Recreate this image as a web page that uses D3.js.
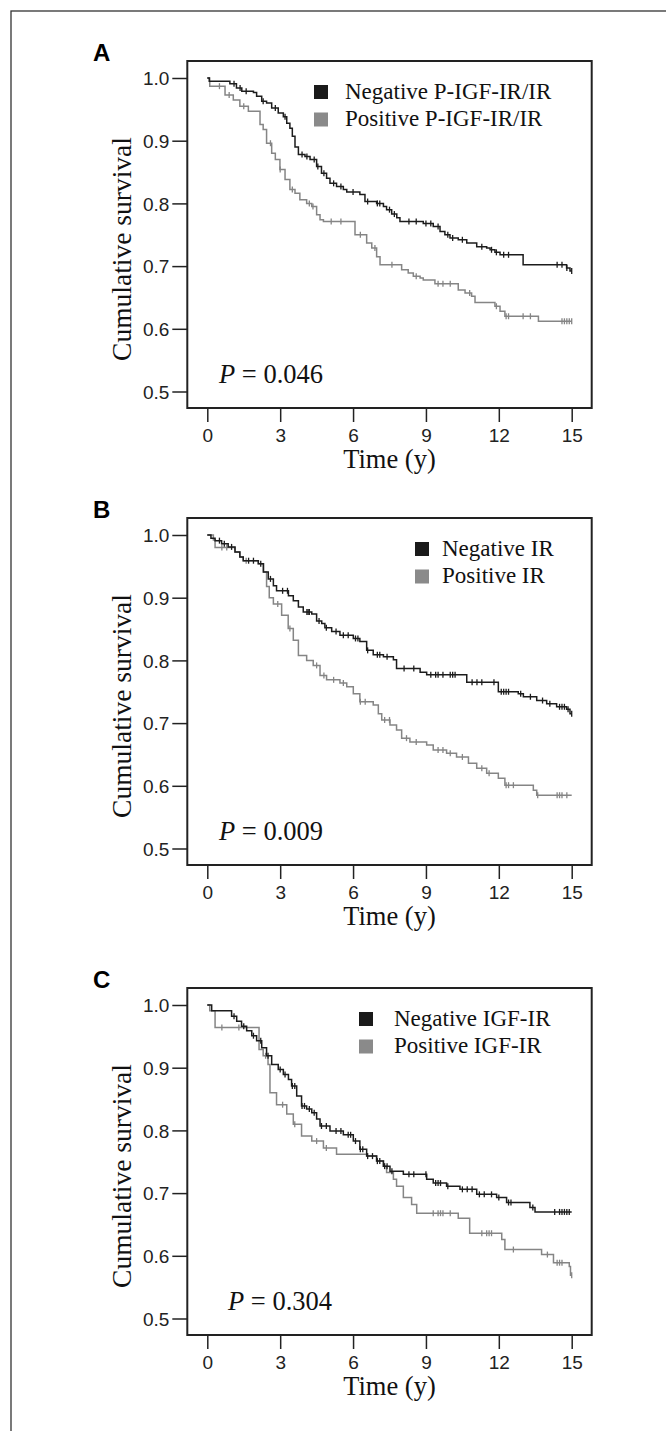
<!DOCTYPE html>
<html>
<head>
<meta charset="utf-8">
<script src="https://cdn.jsdelivr.net/npm/d3@7"></script>
<style>
  body { margin: 0; background: #fff; }
  svg { display: block; }
  .tick text { font-family: "Liberation Sans", Arial, sans-serif; }
</style>
</head>
<body>
<svg id="chart" width="666" height="1431"></svg>
<script>
// x ticks / y ticks
const timeTicks = [0, 3, 6, 9, 12, 15];
const survTicks = [0.5, 0.6, 0.7, 0.8, 0.9, 1.0];

// [time, survival] step points
const aNeg = [[0,1],[0.08,0.995],[0.93,0.991],[1.2,0.984],[1.42,0.979],[1.9,0.977],[2.03,0.971],[2.24,0.963],[2.44,0.96],[2.65,0.952],[2.92,0.944],[3.13,0.938],[3.27,0.928],[3.4,0.92],[3.5,0.907],[3.61,0.89],[3.75,0.878],[4.02,0.875],[4.23,0.87],[4.5,0.859],[4.7,0.848],[4.91,0.84],[5.05,0.832],[5.32,0.827],[5.6,0.822],[5.74,0.818],[6.28,0.814],[6.49,0.803],[6.97,0.8],[7.25,0.795],[7.38,0.79],[7.59,0.783],[7.8,0.777],[7.93,0.771],[8.89,0.768],[9.3,0.763],[9.58,0.755],[9.78,0.75],[9.99,0.745],[10.33,0.742],[10.68,0.737],[11.09,0.731],[11.5,0.729],[11.64,0.726],[11.84,0.722],[12.05,0.718],[13.0,0.702],[14.79,0.697],[14.93,0.692]];
const aPos = [[0,1],[0.1,0.987],[0.73,0.973],[1.07,0.965],[1.34,0.955],[1.69,0.947],[2.17,0.926],[2.3,0.918],[2.44,0.896],[2.65,0.88],[2.8,0.87],[2.99,0.854],[3.2,0.838],[3.4,0.822],[3.61,0.816],[3.81,0.806],[4.09,0.8],[4.3,0.795],[4.5,0.782],[4.64,0.774],[4.78,0.771],[6.08,0.75],[6.56,0.737],[6.77,0.729],[6.97,0.715],[7.11,0.702],[8.0,0.694],[8.27,0.689],[8.48,0.684],[8.76,0.681],[8.89,0.678],[9.37,0.672],[10.33,0.662],[10.61,0.657],[10.88,0.652],[11.02,0.642],[11.84,0.636],[12.05,0.628],[12.25,0.62],[13.63,0.612]];
const bNeg = [[0,1],[0.15,0.995],[0.32,0.991],[0.59,0.986],[0.86,0.981],[1.14,0.973],[1.34,0.965],[1.48,0.959],[2.1,0.954],[2.31,0.941],[2.51,0.93],[2.72,0.919],[2.85,0.911],[3.34,0.903],[3.54,0.895],[3.75,0.885],[3.95,0.877],[4.3,0.874],[4.5,0.863],[4.71,0.859],[4.84,0.852],[5.12,0.846],[5.46,0.84],[6.01,0.835],[6.28,0.83],[6.56,0.816],[6.83,0.809],[7.25,0.806],[7.66,0.801],[7.79,0.787],[8.76,0.781],[9.03,0.777],[10.68,0.765],[11.98,0.75],[12.8,0.747],[13.01,0.742],[13.56,0.736],[13.97,0.731],[14.38,0.726],[14.79,0.722],[14.93,0.715]];
const bPos = [[0,1],[0.25,0.992],[0.32,0.98],[1.14,0.973],[1.34,0.965],[1.48,0.959],[2.1,0.954],[2.31,0.941],[2.44,0.918],[2.55,0.9],[2.72,0.89],[3.06,0.872],[3.33,0.851],[3.54,0.832],[3.75,0.808],[4.09,0.8],[4.36,0.792],[4.64,0.776],[4.91,0.769],[5.46,0.764],[5.74,0.758],[6.01,0.747],[6.28,0.734],[6.83,0.729],[7.04,0.715],[7.18,0.705],[7.52,0.697],[7.79,0.689],[8.0,0.676],[8.34,0.67],[9.03,0.665],[9.3,0.657],[9.85,0.652],[10.26,0.646],[10.75,0.636],[11.09,0.628],[11.5,0.62],[11.98,0.612],[12.25,0.601],[13.42,0.593],[13.56,0.585]];
const cNeg = [[0,1],[0.18,0.991],[1.0,0.982],[1.21,0.974],[1.41,0.966],[1.62,0.959],[1.83,0.951],[2.03,0.943],[2.24,0.932],[2.44,0.919],[2.65,0.905],[2.92,0.897],[3.13,0.889],[3.34,0.881],[3.47,0.871],[3.68,0.855],[3.88,0.839],[4.09,0.834],[4.3,0.828],[4.5,0.818],[4.64,0.807],[5.05,0.799],[5.6,0.793],[6.01,0.783],[6.28,0.77],[6.56,0.759],[6.97,0.751],[7.25,0.743],[7.52,0.735],[8.07,0.73],[9.03,0.722],[9.3,0.716],[9.85,0.711],[10.4,0.706],[11.09,0.698],[11.91,0.693],[12.32,0.685],[13.28,0.677],[13.49,0.67]];
const cPos = [[0,1],[0.1,0.991],[0.32,0.964],[2.13,0.929],[2.3,0.919],[2.5,0.905],[2.58,0.86],[2.85,0.841],[3.27,0.826],[3.54,0.81],[3.88,0.791],[4.3,0.783],[4.78,0.772],[5.32,0.762],[6.56,0.759],[6.97,0.751],[7.25,0.743],[7.38,0.733],[7.66,0.722],[7.79,0.711],[8.07,0.693],[8.41,0.682],[8.62,0.668],[10.33,0.66],[10.8,0.636],[12.12,0.626],[12.25,0.61],[13.76,0.602],[14.25,0.589],[14.9,0.583],[14.95,0.569]];

// censored times (small vertical ticks)
const aNegCens = [1.1,1.35,1.6,2.3,2.8,3.2,3.9,4.1,4.4,4.55,4.8,5.2,5.5,6.0,6.6,7.0,7.1,7.5,7.7,8.3,8.6,9.0,9.2,9.5,9.9,10.1,10.5,11.3,11.7,11.9,12.2,12.4,14.4,14.6,14.8,15.0];
const aPosCens = [0.5,0.9,1.5,2.6,3.0,3.5,4.2,4.35,5.1,5.5,6.3,6.9,7.6,8.6,9.5,9.7,10.0,10.8,11.9,12.3,12.4,13.0,13.3,14.6,14.7,14.8,14.9,15.0];
const bNegCens = [0.5,0.7,1.0,1.7,1.9,2.2,2.6,3.1,3.3,4.1,4.15,4.2,4.6,4.9,5.3,5.6,5.8,6.1,6.2,6.6,7.0,7.1,7.4,8.1,8.5,9.2,9.4,9.5,9.7,10.0,10.1,10.2,10.9,11.1,11.3,11.8,12.1,12.2,12.3,12.4,12.9,13.3,13.8,14.1,14.5,14.6,14.7,14.85,15.0];
const bPosCens = [0.6,0.8,1.6,2.9,3.4,4.5,4.8,5.2,5.6,6.3,6.5,7.3,7.5,8.2,8.6,9.5,9.7,10.0,10.5,11.3,11.6,12.3,12.4,12.6,13.6,14.4,14.5,14.6,14.8];
const cNegCens = [1.1,1.5,1.9,2.2,2.5,3.0,3.2,3.5,3.6,3.9,4.0,4.2,4.4,4.7,4.9,5.3,5.5,5.8,5.9,6.1,6.3,6.4,6.6,6.8,7.0,7.1,7.3,7.4,7.6,8.3,8.5,9.0,9.4,9.5,9.6,9.9,10.5,10.7,10.9,11.2,11.4,11.7,12.0,12.4,12.5,13.4,14.3,14.5,14.6,14.7,14.8,14.9];
const cPosCens = [0.6,1.3,2.4,3.1,3.6,4.5,4.9,9.3,9.5,9.6,9.7,10.0,11.3,11.5,11.6,11.7,12.6,14.0,14.4,14.5,14.6,15.0];

const panelLetters = ['A', 'B', 'C'];
const legendNeg = ['Negative P-IGF-IR/IR', 'Negative IR', 'Negative IGF-IR'];
const legendPos = ['Positive P-IGF-IR/IR', 'Positive IR', 'Positive IGF-IR'];
const pValues = ['0.046', '0.009', '0.304'];

const panels = [
    {top: 61, neg: aNeg, pos: aPos, negC: aNegCens, posC: aPosCens, legX: 314, legGap: 31, pX: 219},
    {top: 518, neg: bNeg, pos: bPos, negC: bNegCens, posC: bPosCens, legX: 415, legGap: 27, pX: 219},
    {top: 988, neg: cNeg, pos: cPos, negC: cNegCens, posC: cPosCens, legX: 359, legGap: 35, pX: 228}
];

const negColor = '#1c1c1c';
const posColor = '#858585';
const serif = '"Liberation Serif", "Times New Roman", serif';

const svg = d3.select('#chart');

// outer frame (only top and left show in the picture)
svg.append('rect')
    .attr('x', 11).attr('y', 11)
    .attr('width', 700).attr('height', 1500)
    .attr('fill', 'none')
    .attr('stroke', '#333')
    .attr('stroke-width', 1.3);

const x = d3.scaleLinear().domain([0, 15]).range([207.3, 571.7]);
const boxLeft = 187.3, boxRight = 591.7, boxH = 347;

function survAt(curve, t) {
    let v = curve[0][1];
    curve.forEach(p => { if (p[0] <= t) v = p[1]; });
    return v;
}

function drawPanel(p, i) {
    const g = svg.append('g');
    const y = d3.scaleLinear().domain([0.5, 1.0]).range([p.top + 330.5, p.top + 17]);

    //panel letter
    g.append('text')
        .attr('x', 93).attr('y', p.top)
        .attr('font-family', '"Liberation Sans", Arial, sans-serif')
        .attr('font-weight', 'bold')
        .attr('font-size', 24)
        .text(panelLetters[i]);

    //box
    g.append('rect')
        .attr('x', boxLeft).attr('y', p.top)
        .attr('width', boxRight - boxLeft).attr('height', boxH)
        .attr('fill', 'none')
        .attr('stroke', '#222')
        .attr('stroke-width', 2);

    //y axis
    const yAxis = g.append('g')
        .attr('transform', `translate(${boxLeft},0)`)
        .call(d3.axisLeft(y).tickValues(survTicks).tickFormat(d3.format('.1f')).tickSize(15).tickPadding(3));
    yAxis.select('.domain').remove();
    yAxis.selectAll('.tick line').attr('stroke', '#222').attr('stroke-width', 1.5);
    yAxis.selectAll('.tick text').attr('font-size', 19).attr('fill', '#222').attr('dy', '0.36em');

    //x axis
    const xAxis = g.append('g')
        .attr('transform', `translate(0,${p.top + boxH})`)
        .call(d3.axisBottom(x).tickValues(timeTicks).tickSize(14).tickPadding(7));
    xAxis.select('.domain').remove();
    xAxis.selectAll('.tick line').attr('stroke', '#222').attr('stroke-width', 1.5);
    xAxis.selectAll('.tick text').attr('font-size', 19).attr('fill', '#222');

    //axis titles
    g.append('text')
        .attr('transform', `translate(131,${p.top + 188}) rotate(-90)`)
        .attr('text-anchor', 'middle')
        .attr('font-family', serif)
        .attr('font-size', 27.5)
        .attr('fill', '#111')
        .text('Cumulative survival');

    g.append('text')
        .attr('x', (x(0) + x(15)) / 2)
        .attr('y', p.top + boxH + 60)
        .attr('text-anchor', 'middle')
        .attr('font-family', serif)
        .attr('font-size', 26.5)
        .attr('fill', '#111')
        .text('Time (y)');

    //curves
    const line = d3.line()
        .x(d => x(d[0]))
        .y(d => y(d[1]))
        .curve(d3.curveStepAfter);

    const series = [
        {pts: p.pos, cens: p.posC, color: posColor},
        {pts: p.neg, cens: p.negC, color: negColor}
    ];
    series.forEach(s => {
        const pts = s.pts.concat([[15, s.pts[s.pts.length - 1][1]]]);
        g.append('path')
            .datum(pts)
            .attr('d', line)
            .attr('fill', 'none')
            .attr('stroke', s.color)
            .attr('stroke-width', 1.5);

        g.selectAll(null)
            .data(s.cens)
            .enter()
            .append('line')
            .attr('x1', d => x(d)).attr('x2', d => x(d))
            .attr('y1', d => y(survAt(s.pts, d)) - 3)
            .attr('y2', d => y(survAt(s.pts, d)) + 3)
            .attr('stroke', s.color)
            .attr('stroke-width', 1.3);
    });

    //legend
    const leg = [
        {label: legendNeg[i], color: '#1a1a1a'},
        {label: legendPos[i], color: '#8a8a8a'}
    ];
    leg.forEach((l, k) => {
        g.append('rect')
            .attr('x', p.legX).attr('y', p.top + 24 + k * 27.5)
            .attr('width', 14).attr('height', 14)
            .attr('fill', l.color);
        g.append('text')
            .attr('x', p.legX + p.legGap).attr('y', p.top + 37.5 + k * 27.5)
            .attr('font-family', serif)
            .attr('font-size', 23)
            .attr('fill', '#111')
            .text(l.label);
    });

    //P value
    const pt = g.append('text')
        .attr('x', p.pX).attr('y', p.top + boxH - 25)
        .attr('font-family', serif)
        .attr('font-size', 26.5)
        .attr('fill', '#111');
    pt.append('tspan').attr('font-style', 'italic').text('P');
    pt.append('tspan').text(' = ' + pValues[i]);
}

panels.forEach(drawPanel);
</script>
</body>
</html>
